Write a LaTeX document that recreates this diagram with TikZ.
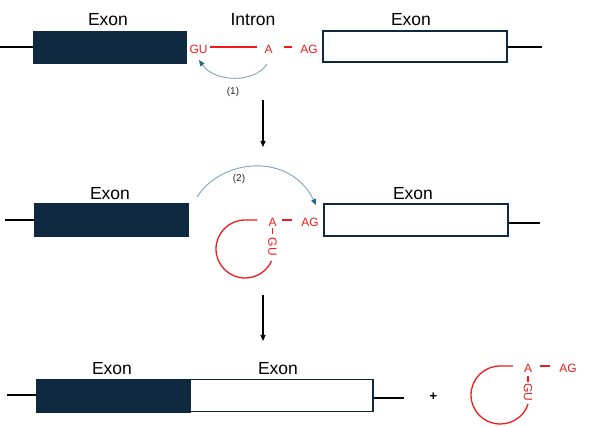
\documentclass[tikz,border=0pt]{standalone}
\usepackage{fontspec}
\setmainfont{Liberation Sans}
\usetikzlibrary{arrows.meta}
\definecolor{navy}{HTML}{0F2940}
\definecolor{rna}{HTML}{F01A1A}
\definecolor{arcc}{HTML}{79A3C0}
\definecolor{arctip}{HTML}{2B6587}
\tikzset{
  darkexon/.style={draw=navy, fill=navy, line width=0.8pt, inner sep=0pt},
  whiteexon/.style={draw=navy, fill=white, line width=1.1pt, inner sep=0pt},
  exonlabel/.style={font=\fontsize{17.5}{20}\selectfont, inner sep=0pt},
  rnatext/.style={text=rna, font=\fontsize{12}{14}\selectfont, inner xsep=2pt, inner ysep=1pt},
  rnaline/.style={draw=rna, line width=1.3pt},
  stub/.style={draw=black, line width=1.1pt},
  steparc/.style={draw=arcc, line width=0.9pt, -{Triangle[length=6pt,width=5pt,fill=arctip,color=arctip]}},
  steplabel/.style={font=\fontsize{10}{11}\selectfont, text=black!85, inner sep=0pt},
  downarrow/.style={draw=black, line width=1.1pt, -{Triangle[length=6pt,width=5pt]}},
}
\begin{document}
\begin{tikzpicture}[x=1pt,y=-1pt]
\useasboundingbox (0,0) rectangle (594,427);

% ---------- Row 1 ----------
\node[darkexon, minimum width=153pt, minimum height=32pt] (ex1a) at (109.5,47) {};
\node[whiteexon, minimum width=184pt, minimum height=31pt] (ex1b) at (415,46.5) {};
\node[exonlabel] (lab1a) at (108,20) {Exon};
\node[exonlabel] (lab1i) at (253,20) {Intron};
\node[exonlabel] (lab1b) at (411,20) {Exon};
\coordinate (l1s) at (0,47);
\coordinate (r1e) at (542,47);
\draw[stub] (l1s) -- (ex1a.west |- l1s);
\draw[stub] (ex1b.east |- r1e) -- (r1e);

\node[rnatext] (gu1) at (198.5,49.5) {GU};
\node[rnatext] (a1) at (268.5,49.5) {A};
\node[rnatext] (ag1) at (309,49.5) {AG};
\draw[rnaline, shorten >=5pt] (gu1.east |- 0,47) -- (a1.west |- 0,47);
\draw[rnaline, shorten <=9pt, shorten >=6pt] (a1.east |- 0,47) -- (ag1.west |- 0,47);

\coordinate (arc1s) at (267,64);
\coordinate (arc1e) at (199,60);
\draw[steparc] (arc1s) .. controls (255,83) and (215,83) .. (arc1e);
\node[steplabel] (st1) at (233,92) {(1)};

\coordinate (d1s) at (263,100);
\coordinate (d1e) at (263,147);
\draw[downarrow] (d1s) -- (d1e);

% ---------- Row 2 ----------
\node[darkexon, minimum width=154pt, minimum height=33pt] (ex2a) at (111,219.5) {};
\node[whiteexon, minimum width=184pt, minimum height=32pt] (ex2b) at (416,220) {};
\node[exonlabel] (lab2a) at (110,194) {Exon};
\node[exonlabel] (lab2b) at (413,194) {Exon};
\coordinate (l2s) at (5,220);
\coordinate (r2e) at (540,223);
\draw[stub] (l2s) -- (ex2a.west |- l2s);
\draw[stub] (ex2b.east |- r2e) -- (r2e);

\coordinate (arc2s) at (197,197);
\coordinate (arc2e) at (316,205);
\draw[steparc] (arc2s) .. controls (222,158) and (290,152) .. (arc2e);
\node[steplabel] (st2) at (239,179) {(2)};

\node[rnatext] (a2) at (272.5,222) {A};
\node[rnatext] (ag2) at (310,222) {AG};
\node[rnatext, rotate=-90] (gu2) at (272.5,247) {GU};
\draw[rnaline, shorten <=3pt, shorten >=7pt] (a2.east |- 0,220) -- (ag2.west |- 0,220);
\draw[rnaline, line width=1.1pt] (272.5,228.5) -- (272.5,234.5);
\coordinate (loop2e) at (271.5,261);
\draw[rnaline] ([xshift=-9pt]a2.west |- 0,220) -- (245,220)
  .. controls (229,220) and (216,233) .. (216,249)
  .. controls (216,265) and (229,278) .. (245,278)
  .. controls (256.6,278) and (267.2,271) .. (loop2e);

\coordinate (d2s) at (263,295);
\coordinate (d2e) at (263,341);
\draw[downarrow] (d2s) -- (d2e);

% ---------- Row 3 ----------
\node[darkexon, minimum width=154pt, minimum height=33pt] (ex3a) at (113,395.5) {};
\node[whiteexon, minimum width=183pt, minimum height=32pt] (ex3b) at (281.5,395.5) {};
\node[exonlabel] (lab3a) at (112,369) {Exon};
\node[exonlabel] (lab3b) at (278,369) {Exon};
\coordinate (l3s) at (7,395);
\coordinate (r3e) at (404,398);
\draw[stub] (l3s) -- (ex3a.west |- l3s);
\draw[stub] (ex3b.east |- r3e) -- (r3e);

\node[font=\fontsize{13}{14}\selectfont\bfseries, inner sep=0pt] (plus) at (433.5,397) {+};

\node[rnatext] (a3) at (528,368.5) {A};
\node[rnatext] (ag3) at (568,368.5) {AG};
\node[rnatext, rotate=-90] (gu3) at (528,392.5) {GU};
\draw[rnaline, shorten <=6pt, shorten >=7pt] (a3.east |- 0,366) -- (ag3.west |- 0,366);
\draw[rnaline, line width=1.1pt] (528,375.5) -- (528,381.5);
\coordinate (loop3e) at (528,404);
\draw[rnaline] ([xshift=-9pt]a3.west |- 0,366) -- (500,366)
  .. controls (484,366) and (471,379) .. (471,395)
  .. controls (471,411) and (484,424) .. (500,424)
  .. controls (513.1,424) and (524.6,415.7) .. (loop3e);
\end{tikzpicture}
\end{document}
